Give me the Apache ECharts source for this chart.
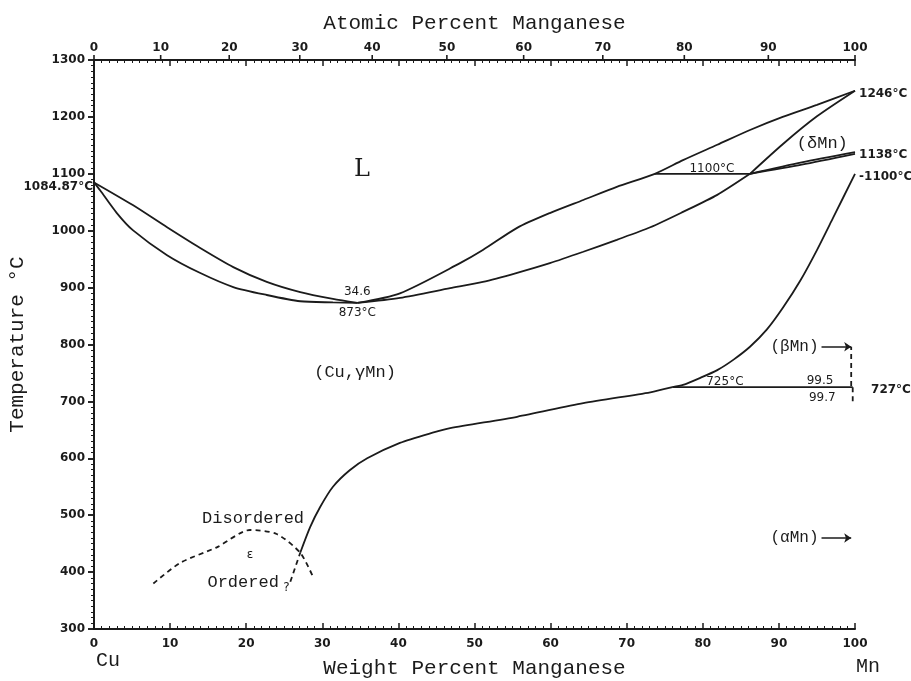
<!DOCTYPE html>
<html>
<head>
<meta charset="utf-8">
<script src="https://cdn.jsdelivr.net/npm/echarts@6/dist/echarts.min.js"></script>
<style>html,body{margin:0;padding:0;background:#fff}#c{width:911px;height:681px}</style>
</head>
<body>
<div id="c"></div>
<script>
// ---------- data (wt% Mn, temperature °C) ----------
const atomicTickLabels = [0, 10, 20, 30, 40, 50, 60, 70, 80, 90, 100];
const atomicTickWt = [0, 8.76, 17.77, 27.04, 36.56, 46.37, 56.46, 66.86, 77.57, 88.61, 100];

const liquidusCu = [[0,1084.87],[5.1,1045],[9.6,1006],[13.9,970],[18.3,936],[22.7,910],[27.1,892],[31.4,880],[34.6,873]];
const solidusCu = [[0,1084.87],[0.8,1071],[3.0,1031],[5.1,1001],[9.6,957],[13.9,926],[18.3,901],[22.7,887],[27.1,876],[31.4,874],[34.6,873]];
const liquidusMn = [[34.6,873],[40.2,890],[48.1,943],[51.1,966],[55.6,1005],[59.9,1031],[64.3,1054],[68.7,1077],[73.7,1100],[77.4,1124],[81.9,1151],[86.2,1177],[90.5,1200],[95.0,1221],[100,1246]];
const solidusMn = [[34.6,873],[40.2,882],[46.8,899],[51.1,910],[55.6,926],[59.9,943],[64.3,963],[68.7,984],[73.1,1006],[77.4,1033],[81.9,1063],[86.2,1100]];
const deltaSolidus = [[86.2,1100],[90.5,1152],[95.0,1201],[100,1246]];
const deltaGammaUpper = [[86.2,1100],[93,1120],[100,1138]];
const deltaGammaLower = [[86.2,1100],[93,1116],[100,1135]];
const peritectic = [[73.7,1100],[86.2,1100]];
const gammaBeta = [[76.0,725],[77.4,729],[79.6,741],[81.9,755],[84.0,773],[86.2,796],[88.4,826],[90.5,864],[92.8,912],[95.0,966],[97.1,1022],[100,1100]];
const eutectoid = [[76.0,725],[99.7,725]];
const gammaAlpha = [[27.1,434],[28.4,479],[29.7,514],[31.4,550],[33.6,579],[35.9,600],[40.2,627],[44.5,645],[46.8,653],[55.6,673],[64.3,697],[73.1,716],[76.0,725]];
const gammaAlphaDashed = [[25.8,383],[27.1,434]];
const epsilonDashed = [[7.8,380],[11.3,416],[16.2,444],[20.5,474],[24.0,467],[27.1,434],[28.8,391]];
const betaDashed = [[99.5,727],[99.5,796]];
const alphaDashed = [[99.7,725],[99.7,700]];

const phaseArrows = [['(βMn)', 95.6, 99.5, 796], ['(αMn)', 95.6, 99.5, 460]];
const bigLabels = [['L', 35.2, 1107]];
const regionLabels = [['(δMn)', 95.7, 1154], ['(Cu,γMn)', 34.3, 750], ['Disordered', 20.9, 495], ['Ordered', 19.6, 381]];
const smallLabels = [['1100°C', 81.2, 1108], ['34.6', 34.6, 892], ['873°C', 34.6, 855], ['725°C', 82.9, 735], ['99.5', 95.4, 736], ['99.7', 95.7, 706], ['ε', 20.5, 430], ['?', 25.3, 372]];
const rightLabels = [['1246°C', 100, 1246], ['1138°C', 100, 1138], ['-1100°C', 100, 1100]];
const rightLabelsFar = [['727°C', 100, 727]];
const leftLabels = [['1084.87°C', 0, 1084.87]];

// ---------- styles ----------
const INK = '#1b1b1b';
const MONO = '"Liberation Mono", "DejaVu Sans Mono", monospace';
const SANS = '"DejaVu Sans", sans-serif';

function curve(data, dashed, smooth) {
  return {
    type: 'line', data: data, symbol: 'none', showSymbol: false,
    smooth: smooth === false ? false : 0.25,
    lineStyle: { color: INK, width: 1.8, type: dashed ? [5, 4] : 'solid' },
    silent: true, z: 3
  };
}
function textSeries(items, label) {
  return {
    type: 'scatter', symbol: 'circle', symbolSize: 0.1,
    itemStyle: { color: 'rgba(0,0,0,0)', opacity: 1 }, silent: true, z: 5,
    data: items.map(d => ({ name: d[0], value: [d[1], d[2]] })),
    label: Object.assign({ show: true, formatter: '{b}', color: INK }, label)
  };
}

const axisLineStyle = { color: INK, width: 2 };
const series = [
  curve(liquidusCu), curve(solidusCu), curve(liquidusMn), curve(solidusMn),
  curve(deltaSolidus), curve(deltaGammaUpper), curve(deltaGammaLower),
  curve(peritectic, false, false), curve(gammaBeta), curve(eutectoid, false, false),
  curve(gammaAlpha), curve(gammaAlphaDashed, true, false), curve(epsilonDashed, true),
  curve(betaDashed, true, false), curve(alphaDashed, true, false),
  {
    type: 'line', data: [], silent: true,
    markLine: {
      silent: true, symbol: ['none', 'arrow'], symbolSize: 7,
      lineStyle: { color: INK, width: 1.5, type: 'solid' },
      label: { show: true, position: 'start', formatter: '{b}', fontFamily: MONO, fontSize: 16, color: INK, distance: 3 },
      data: phaseArrows.map(a => [{ name: a[0], coord: [a[1], a[3]] }, { coord: [a[2], a[3]] }])
    }
  },
  // top axis: atomic percent ticks
  {
    type: 'scatter', xAxisIndex: 1, yAxisIndex: 0, silent: true, clip: false,
    symbol: 'rect', symbolSize: [1.6, 5], symbolOffset: [0, -2.5],
    itemStyle: { color: INK, opacity: 1 },
    data: atomicTickWt.map((w, i) => ({ name: String(atomicTickLabels[i]), value: [w, 1300] })),
    label: { show: true, position: 'top', distance: 1, formatter: '{b}', fontFamily: SANS, fontWeight: 'bold', fontSize: 12, color: INK }
  },
  textSeries(bigLabels, { position: 'inside', fontFamily: '"DejaVu Serif", serif', fontSize: 24 }),
  textSeries(regionLabels, { position: 'inside', fontFamily: MONO, fontSize: 17 }),
  textSeries(smallLabels, { position: 'inside', fontFamily: SANS, fontSize: 12 }),
  Object.assign(textSeries(rightLabels, { position: 'right', distance: 4, offset: [0, 3], fontFamily: SANS, fontWeight: 'bold', fontSize: 12 }), { clip: false }),
  Object.assign(textSeries(rightLabelsFar, { position: 'right', distance: 16, offset: [0, 4], fontFamily: SANS, fontWeight: 'bold', fontSize: 12 }), { clip: false }),
  Object.assign(textSeries(leftLabels, { position: 'left', distance: 1, offset: [0, 4], fontFamily: SANS, fontWeight: 'bold', fontSize: 12 }), { clip: false })
];

const chart = echarts.init(document.getElementById('c'), null, { renderer: 'canvas' });
chart.setOption({
  animation: false,
  backgroundColor: '#ffffff',
  grid: { left: 94, right: 56, top: 60, bottom: 52, containLabel: false, outerBoundsMode: 'none' },
  xAxis: [
    {
      type: 'value', min: 0, max: 100, interval: 10, position: 'bottom',
      axisLine: { lineStyle: axisLineStyle },
      axisTick: { inside: true, length: 6, lineStyle: { color: INK, width: 1.5 } },
      minorTick: { show: true, splitNumber: 10, length: 3, lineStyle: { color: INK, width: 1 } },
      axisLabel: { fontFamily: SANS, fontWeight: 'bold', fontSize: 12, color: INK, margin: 9 },
      splitLine: { show: false },
      name: 'Weight Percent Manganese', nameLocation: 'middle', nameGap: 29,
      nameTextStyle: { fontFamily: MONO, fontSize: 21, color: INK }
    },
    {
      type: 'value', min: 0, max: 100, interval: 10, position: 'top',
      axisLine: { lineStyle: axisLineStyle },
      axisTick: { inside: true, length: 6, lineStyle: { color: INK, width: 1.5 } },
      minorTick: { show: true, splitNumber: 10, length: 3, lineStyle: { color: INK, width: 1 } },
      axisLabel: { show: false }, splitLine: { show: false },
      name: 'Atomic Percent Manganese', nameLocation: 'middle', nameGap: 26,
      nameTextStyle: { fontFamily: MONO, fontSize: 21, color: INK }
    }
  ],
  yAxis: [
    {
      type: 'value', min: 300, max: 1300, interval: 100, position: 'left',
      axisLine: { show: true, lineStyle: axisLineStyle },
      axisTick: { show: true, inside: false, length: 6, lineStyle: { color: INK, width: 1.5 } },
      minorTick: { show: true, splitNumber: 10, length: 3, lineStyle: { color: INK, width: 1 } },
      axisLabel: { fontFamily: SANS, fontWeight: 'bold', fontSize: 12, color: INK, margin: 9, formatter: v => String(v) },
      splitLine: { show: false },
      name: 'Temperature °C', nameLocation: 'middle', nameGap: 66,
      nameTextStyle: { fontFamily: MONO, fontSize: 21, color: INK }
    },
    {
      type: 'value', min: 300, max: 1300, interval: 100, position: 'right',
      axisLine: { show: true, lineStyle: axisLineStyle },
      axisTick: { show: true, inside: true, length: 6, lineStyle: { color: INK, width: 1.5 } },
      minorTick: { show: true, splitNumber: 10, length: 3, lineStyle: { color: INK, width: 1 } },
      axisLabel: { show: false }, splitLine: { show: false }
    }
  ],
  graphic: [
    { type: 'text', left: 96, top: 651, style: { text: 'Cu', font: '20px ' + MONO, fill: INK } },
    { type: 'text', left: 856, top: 657, style: { text: 'Mn', font: '20px ' + MONO, fill: INK } }
  ],
  series: series
});
</script>
</body>
</html>
